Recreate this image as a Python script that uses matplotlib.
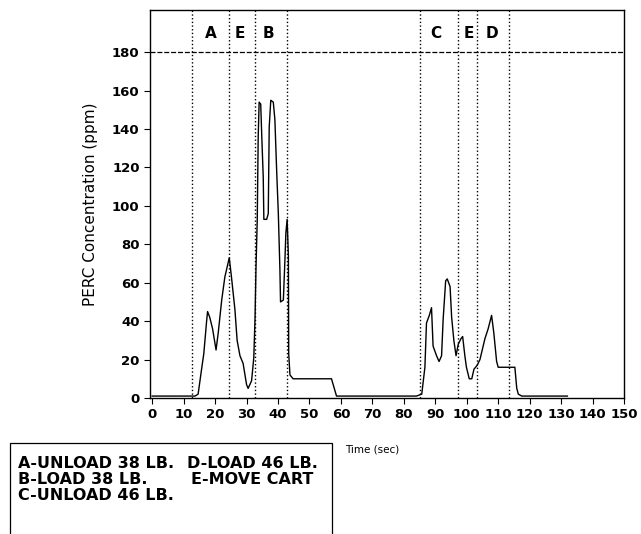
import matplotlib
matplotlib.use('Agg')
import matplotlib.pyplot as plt
from matplotlib.patches import Rectangle

plt.rcParams['font.family'] = ['DejaVu Sans']

# PERC concentration trace
time_s = [0, 5, 10, 13.6, 14.6, 15.7, 16.4, 17.3, 17.6, 18.3, 19.2, 20.3, 21, 22.1, 23.1,
          24.5, 25.2, 26.3, 27, 27.9, 28.9, 30, 30.5, 31.6, 32.3, 32.7, 33, 33.4, 33.7,
          34.0, 34.5, 34.8, 35.3, 35.5, 36.4, 36.9, 37.2, 37.7, 38.5, 39.0, 39.6, 40.1,
          40.6, 40.8, 41.7, 42.2, 42.5, 42.9, 43.3, 43.4, 43.8, 44.8, 57, 58.6, 84,
          85.7, 86.7, 87.2, 88.1, 88.8, 89.3, 90.4, 91.2, 92, 92.5, 93.3, 93.8, 94.7,
          95.2, 95.9, 96.6, 97.3, 98.2, 98.7, 99.4, 99.9, 100.8, 101.6, 102.3, 103.3,
          104.2, 105.8, 106.8, 107.9, 108.6, 109.5, 110, 115.3, 115.9, 116.4, 117.5, 132]
ppm = [1, 1, 1, 1, 2, 15, 23, 40, 45, 42, 36, 25, 34, 51, 63,
       73, 63, 46, 30, 22, 18, 7, 5, 9, 21, 42, 68, 93, 136,
       154, 153, 138, 115, 93, 93, 96, 141, 155, 154, 145, 117, 96,
       67, 50, 51, 72, 86, 93, 74, 23, 12, 10, 10, 1, 1,
       2, 16, 39, 43, 47, 27, 22, 19, 22, 41, 61, 62, 58,
       42, 30, 22, 28, 31, 32, 22, 16, 10, 10, 15, 17,
       20, 31, 36, 43, 34, 19, 16, 16, 5, 2, 1, 1]

# activity boundaries and labels
event_lines = [12.7, 24.5, 32.7, 43, 85, 97.3, 103.3, 113.5]
event_labels = ['A', 'E', 'B', 'C', 'E', 'D']
event_label_x = [18.5, 27.9, 36.9, 90.2, 100.5, 107.9]

key_lines = [
    ('A-UNLOAD 38 LB.', 'D-LOAD 46 LB.'),
    ('B-LOAD 38 LB.', 'E-MOVE CART'),
    ('C-UNLOAD 46 LB.', ''),
]

fig = plt.figure(figsize=(6.41, 5.34), dpi=100)
ax = fig.add_axes([0.234, 0.2547, 0.7395, 0.7266])

ax.plot(time_s, ppm, color='k', linewidth=1.0, zorder=3)
for xv in event_lines:
    ax.axvline(xv, color='k', linestyle=':', linewidth=1.0, zorder=2)
for lab, xv in zip(event_labels, event_label_x):
    ax.text(xv, 190, lab, ha='center', va='center', fontsize=11, fontweight='bold')
ax.axhline(180, color='k', linestyle=(0, (4, 1.5)), linewidth=0.9, zorder=2)

ax.set_xlim(-0.7, 150)
ax.set_ylim(0, 202)
ax.set_xticks(range(0, 151, 10))
ax.set_yticks(range(0, 181, 20))
ax.tick_params(direction='out', length=4, width=0.8, labelsize=9.5, colors='k')
for lbl in ax.get_xticklabels() + ax.get_yticklabels():
    lbl.set_fontweight('bold')
ax.set_ylabel('PERC Concentration (ppm)', fontsize=11, labelpad=10)
for s in ax.spines.values():
    s.set_linewidth(1.0)

fig.text(345 / 641, 1 - 449 / 534, 'Time (sec)', fontsize=7.5, va='center', ha='left')

fig.patches.append(Rectangle((10 / 641, -0.05), 322 / 641, 0.05 + (534 - 443) / 534,
                             transform=fig.transFigure, fill=False,
                             edgecolor='k', linewidth=0.9))
col2_x = [187, 191, 187]
for i, (left, right) in enumerate(key_lines):
    yy = 1 - (464 + 16 * i) / 534
    fig.text(18 / 641, yy, left, fontsize=11.5, fontweight='bold', va='center')
    if right:
        fig.text(col2_x[i] / 641, yy, right, fontsize=11.5, fontweight='bold', va='center')

fig.savefig('out.png', dpi=100)
